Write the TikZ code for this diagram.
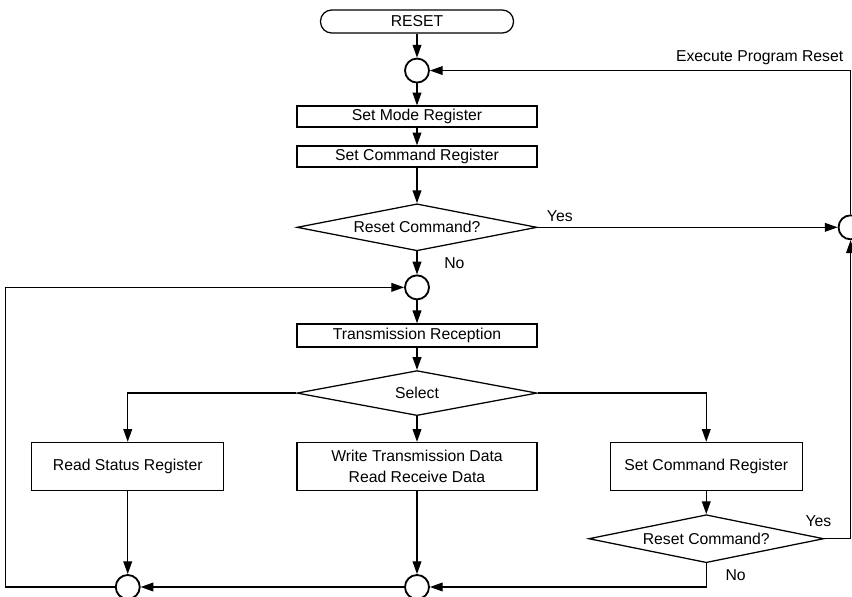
\documentclass[tikz,border=0pt]{standalone}
\usepackage{fontspec}
\setmainfont{Liberation Sans}
\usepackage{tikz}
\usetikzlibrary{shapes.geometric, arrows.meta, positioning}
\tikzstyle{startbox} = [rectangle, rounded corners=0.28cm, draw, line width=0.9pt,
minimum width=4.825cm, minimum height=0.575cm, inner ysep=1pt]
\tikzstyle{stepbox} = [rectangle, draw, line width=0.9pt,
minimum width=6cm, minimum height=0.525cm, inner ysep=1pt, align=center]
\tikzstyle{branchbox} = [rectangle, draw, line width=0.9pt,
minimum width=4.8cm, minimum height=1.2cm, inner ysep=1pt, align=center]
\tikzstyle{testbox} = [diamond, aspect=5, draw, line width=0.9pt,
minimum width=6cm, minimum height=1.175cm, inner sep=1pt, align=center]
\tikzstyle{joint} = [circle, draw, line width=1.3pt, inner sep=0pt, minimum size=0.6cm]
\tikzstyle{arrow} = [-{Triangle[length=3.2mm, width=2.2mm]}, line width=0.9pt]
\tikzstyle{link} = [line width=0.9pt]

\begin{document}
\begin{tikzpicture}[font=\fontsize{11.2}{14.5}\selectfont]
    \useasboundingbox (0,0) rectangle (21.3,-14.925);
    % main column
    \node (reset) [startbox] at (10.425,-0.5375) {RESET};
    \node (c1) [joint, below=0.6cm of reset] {};
    \node (setmode) [stepbox, below=0.55cm of c1] {Set Mode Register};
    \node (setcmd) [stepbox, below=0.44cm of setmode] {Set Command Register};
    \node (rescmd) [testbox, below=0.89cm of setcmd] {Reset Command?};
    \node (cR) [joint, right=7.5cm of rescmd] {};
    \node (c2) [joint, below=0.575cm of rescmd] {};
    \node (trans) [stepbox, minimum height=0.575cm, below=0.575cm of c2]
    {Transmission Reception};
    \node (select) [testbox, minimum height=1.125cm, below=0.56cm of trans] {Select};
    % three branches
    \node (wdata) [branchbox, minimum width=6cm, below=0.64cm of select]
    {Write Transmission Data\\Read Receive Data};
    \node (rstat) [branchbox, left=1.8cm of wdata] {Read Status Register};
    \node (setcmd2) [branchbox, right=1.8cm of wdata] {Set Command Register};
    \node (rescmd2) [testbox, minimum width=5.875cm, minimum height=1.2cm,
    below=0.575cm of setcmd2] {Reset Command?};
    \node (c3) [joint, below=2.075cm of rstat] {};
    \node (c4) [joint, below=2.075cm of wdata] {};

    \draw[arrow] (reset) -- (c1);
    \draw[arrow] (c1) -- (setmode);
    \draw[arrow] (setmode) -- (setcmd);
    \draw[arrow] (setcmd) -- (rescmd);
    \draw[arrow] (rescmd) -- node[right=0.55cm]{No} (c2);
    \draw[arrow] (rescmd.east) -- node[pos=0, anchor=south west, xshift=0.1cm]{Yes} (cR.west);
    \draw[arrow] (cR.north) |- node[pos=0.5, anchor=south east, xshift=-0.05cm]
        {Execute Program Reset} (c1.east);
    \draw[arrow] (c2) -- (trans);
    \draw[arrow] (trans) -- (select);
    \draw[arrow] (select.west) -| (rstat.north);
    \draw[arrow] (select.south) -- (wdata.north);
    \draw[arrow] (select.east) -| (setcmd2.north);
    \draw[arrow] (setcmd2) -- (rescmd2);
    \draw[arrow] (rstat) -- (c3);
    \draw[arrow] (wdata) -- (c4);
    \draw[arrow] (rescmd2.east) -| node[pos=0.5, above left, xshift=-0.35cm, yshift=0.17cm]{Yes} (cR.south);
    \draw[arrow] (rescmd2.south) |- node[pos=0.25, right=0.35cm]{No} (c4.east);
    \draw[arrow] (c4) -- (c3);
    \draw[arrow] (c3.west) -- ++(-2.725,0) |- (c2.west);
\end{tikzpicture}
\end{document}
